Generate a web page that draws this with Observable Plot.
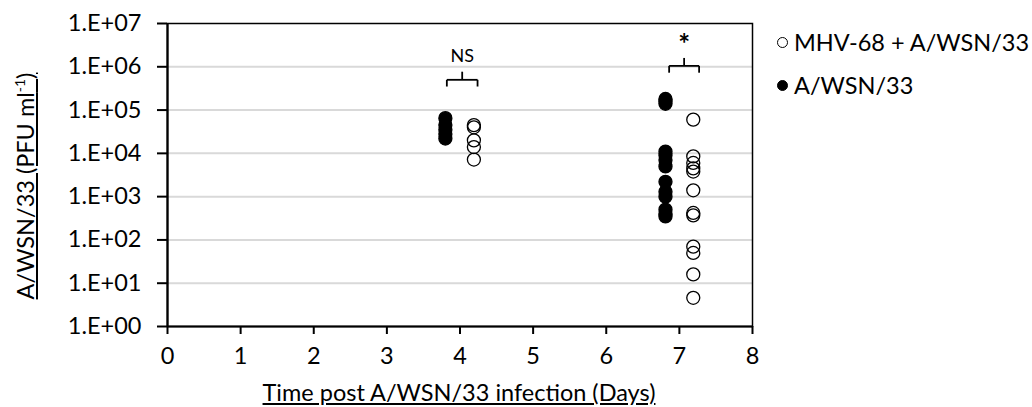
<!DOCTYPE html>
<html><head><meta charset="utf-8">
<script src="https://cdn.jsdelivr.net/npm/d3@7"></script>
<script src="https://cdn.jsdelivr.net/npm/@observablehq/plot@0.6"></script>
<style>
body{margin:0;background:#fff;font-family:Lato,"Open Sans",sans-serif;}
#wrap{position:relative;width:1032px;height:407px;}
.lbl{position:absolute;font-size:23.5px;line-height:28px;color:#000;white-space:nowrap;}
.leg{position:absolute;font-size:23.5px;line-height:28px;color:#000;white-space:nowrap;display:flex;align-items:center;}
.leg span.m{display:inline-block;width:11px;height:11px;border-radius:50%;border:1.3px solid #000;margin-right:6px;box-sizing:border-box;}
</style></head>
<body><div id="wrap"></div>
<script>
// Data
const days = [0,1,2,3,4,5,6,7,8];
const yTicks = [1,1e1,1e2,1e3,1e4,1e5,1e6,1e7];
const seriesNames = ["MHV-68 + A/WSN/33","A/WSN/33"];
// A/WSN/33 alone (filled)
const wsnX = [3.80,3.80,3.80,3.80,3.80, 6.81,6.81,6.81,6.81,6.81,6.81,6.81,6.81,6.81,6.81,6.81,6.81,6.81];
const wsnY = [6.5e4,4.5e4,3.5e4,2.8e4,2.2e4, 1.8e5,1.6e5,1.4e5,1.1e4,9e3,7e3,5e3,2.2e3,1.3e3,1.0e3,5e2,4e2,3.5e2];
// MHV-68 + A/WSN/33 (open)
const mhvX = [4.19,4.19,4.19,4.19,4.19, 7.19,7.19,7.19,7.19,7.19,7.19,7.19,7.19,7.19,7.19,7.19,7.19];
const mhvY = [4.5e4,4.0e4,2.0e4,1.4e4,7.2e3, 6e4,8.5e3,6e3,4.5e3,3.8e3,1.4e3,4.2e2,3.7e2,7e1,5e1,1.6e1,4.6];
// significance brackets
const brX1 = [3.82,6.86];
const brX2 = [4.24,7.27];
const brY = [5.0e5,1.05e6];
const brEnd = [3.5e5,7.3e5];
const brTop = [7.7e5,1.6e6];
const brLabel = ["NS","*"];
const brLabelY = [1.8e6,3.2e6];

const wsn = wsnX.map((x,i)=>({x,y:wsnY[i]}));
const mhv = mhvX.map((x,i)=>({x,y:mhvY[i]}));
const br = brLabel.map((l,i)=>({x1:brX1[i],x2:brX2[i],xm:(brX1[i]+brX2[i])/2,y:brY[i],ye:brEnd[i],yt:brTop[i],l,ly:brLabelY[i]}));

const fmt = d => "1.E+" + String(Math.round(Math.log10(d))).padStart(2,"0");

const chart = Plot.plot({
  width:1032, height:407,
  marginLeft:167, marginRight:280, marginTop:23, marginBottom:81,
  style:{fontFamily:"Lato, 'Open Sans', sans-serif", fontSize:"23.5px", color:"#000", background:"#fff"},
  x:{domain:[0,8], ticks:days, label:null},
  y:{type:"log", domain:[1,1e7], ticks:yTicks, label:null, tickFormat:fmt},
  marks:[
    Plot.gridY(yTicks.slice(1,-1), {stroke:"#d9d9d9", strokeOpacity:1, strokeWidth:2}),
    Plot.frame({stroke:"#000", strokeWidth:1.5}),
    Plot.ruleX([0], {stroke:"#000", strokeWidth:2.2}),
    Plot.ruleY([1], {stroke:"#000", strokeWidth:2.2}),
    Plot.axisY(yTicks, {tickSize:10, tickPadding:16, tickFormat:fmt, strokeWidth:2, fontSize:23.5}),
    Plot.axisX(days, {tickSize:8, tickPadding:13, strokeWidth:2, fontSize:23.5}),
    Plot.dot(wsn, {x:"x", y:"y", r:6.5, fill:"#000", stroke:"#000", strokeWidth:1.3}),
    Plot.dot(mhv, {x:"x", y:"y", r:6.5, fill:"none", stroke:"#000", strokeWidth:1.3}),
    Plot.link(br, {x1:"x1", x2:"x2", y1:"y", y2:"y", stroke:"#000", strokeWidth:1.8}),
    Plot.link(br, {x1:"x1", x2:"x1", y1:"y", y2:"ye", stroke:"#000", strokeWidth:1.8}),
    Plot.link(br, {x1:"x2", x2:"x2", y1:"y", y2:"ye", stroke:"#000", strokeWidth:1.8}),
    Plot.link(br, {x1:"xm", x2:"xm", y1:"y", y2:"yt", stroke:"#000", strokeWidth:1.8}),
    Plot.text(br.filter(d=>d.l==="NS"), {x:"xm", y:"ly", text:"l", fontSize:18, fill:"#000"}),
    Plot.text(br.filter(d=>d.l==="*"), {x:"xm", y:"ly", text:"l", fontSize:28, fontWeight:"bold", fill:"#000"})
  ]
});
const wrap = document.getElementById("wrap");
wrap.appendChild(chart);

const xl = document.createElement("div");
xl.className="lbl";
xl.style.cssText += "left:459px;top:378px;transform:translateX(-50%);text-decoration:underline;";
xl.textContent = "Time post A/WSN/33 infection (Days)";
wrap.appendChild(xl);

const yl = document.createElement("div");
yl.className="lbl";
yl.style.cssText += "left:25px;top:186px;transform:translate(-50%,-50%) rotate(-90deg);text-decoration:underline;";
yl.innerHTML = "A/WSN/33 (PFU ml<sup style='font-size:14px;line-height:0'>-1</sup>)";
wrap.appendChild(yl);

const legTops = [28,71];
seriesNames.forEach((n,i)=>{
  const d = document.createElement("div");
  d.className="leg";
  d.style.left="777px"; d.style.top=legTops[i]+"px";
  d.innerHTML = `<span class="m" style="background:${i===1?'#000':'#fff'}"></span>${n}`;
  wrap.appendChild(d);
});
</script></body></html>
